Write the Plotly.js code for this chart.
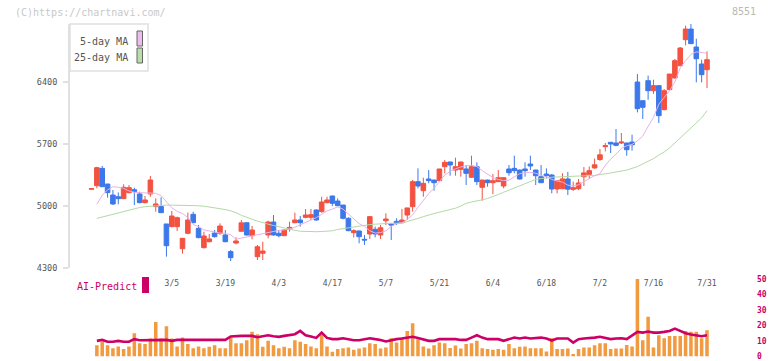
<!DOCTYPE html>
<html><head><meta charset="utf-8">
<script src="https://cdn.plot.ly/plotly-3.0.1.min.js"></script>
<style>html,body{margin:0;padding:0;background:#fff;}#chart{width:772px;height:361px;}</style>
</head><body><div id="chart"></div>
<script>
const tickIndex = [15,25,35,45,55,65,75,85,95,105,115];
const tickDates = ['3/5','3/19','4/3','4/17','5/7','5/21','6/4','6/18','7/2','7/16','7/31'];
const priceTicks = [4300,5000,5700,6400];
const predictTicks = [0,10,20,30,40,50];

const open = [5190,5230,5425,5248,5124,5105,5083,5151,5184,5136,
5038,5136,4993,4993,4797,4767,4767,4518,4692,4906,
4748,4530,4597,4695,4692,4673,4485,4582,4715,4811,
4665,4428,4466,4673,4819,4692,4665,4737,4812,4842,
4872,4872,4955,4936,5038,5113,5056,5011,4861,4699,
4718,4624,4684,4737,4673,4834,4797,4827,4812,4898,
4992,5275,5173,5305,5293,5286,5444,5497,5406,5414,
5418,5324,5444,5211,5293,5263,5275,5226,5418,5425,
5406,5418,5474,5406,5331,5361,5350,5192,5195,5305,
5188,5195,5330,5358,5430,5525,5670,5719,5711,5711,
5711,5722,6400,6189,6415,6302,6359,6088,6314,6445,
6584,6878,6998,6795,6603,6539];
const high = [5200,5443,5452,5250,5181,5154,5245,5237,5207,5162,
5113,5339,5087,5098,4797,4944,4880,4640,4925,4936,
4786,4710,4684,4729,4804,4729,4503,4646,4842,4815,
4775,4560,4597,4834,4898,4729,4740,4823,4925,4887,
4966,4966,4962,5105,5105,5116,5086,5011,4872,4737,
4722,4672,4884,4767,4786,4917,4804,4861,4966,4980,
5293,5425,5320,5406,5297,5418,5519,5500,5546,5500,
5463,5568,5493,5297,5297,5361,5406,5320,5463,5568,
5410,5493,5568,5410,5463,5425,5361,5290,5369,5384,
5275,5305,5440,5446,5535,5644,5711,5722,5869,5824,
5715,5805,6490,6190,6472,6426,6360,6321,6490,6660,
6795,7036,7055,6889,6652,6746];
const low = [5185,5200,5215,5094,5011,5019,5083,5143,5011,5030,
5030,5105,4936,4920,4428,4760,4718,4462,4680,4805,
4635,4520,4590,4643,4673,4590,4379,4567,4710,4665,
4624,4390,4390,4635,4665,4646,4660,4710,4805,4767,
4861,4842,4835,4925,5030,4999,4995,4849,4715,4646,
4579,4560,4628,4646,4628,4786,4616,4786,4804,4842,
4936,5199,5105,5256,5173,5275,5369,5342,5342,5331,
5237,5320,5237,5060,5218,5135,5270,5200,5342,5369,
5300,5331,5406,5237,5260,5312,5143,5143,5190,5124,
5170,5180,5226,5308,5420,5510,5617,5598,5674,5700,
5568,5625,6057,5982,6200,6265,5937,6080,6302,6440,
6580,6814,6830,6396,6396,6332];
const close = [5196,5433,5218,5151,5023,5083,5211,5207,5162,5038,
5068,5294,5023,4925,4552,4887,4868,4635,4842,4812,
4643,4661,4628,4654,4774,4597,4417,4605,4810,4673,
4729,4540,4492,4819,4673,4665,4729,4759,4842,4812,
4898,4902,4842,5045,5068,5030,5004,4861,4722,4722,
4654,4616,4880,4684,4755,4853,4786,4804,4842,4978,
5275,5226,5256,5286,5263,5418,5493,5463,5444,5497,
5369,5444,5275,5293,5263,5286,5320,5320,5376,5399,
5305,5399,5452,5342,5263,5342,5192,5286,5306,5190,
5207,5260,5374,5399,5465,5578,5681,5700,5685,5722,
5636,5692,6099,6114,6302,6359,6020,6302,6490,6641,
6784,6998,6833,6663,6483,6652];
const ma5 = [null,5019,5124,5181,5218,5211,5200,5170,5155,5151,5151,
5151,5143,5117,5049,4980,4940,4915,4870,4790,4767,
4730,4718,4705,4695,4690,4675,4625,4638,4650,4665,
4675,4684,4698,4710,4725,4731,4740,4760,4790,4812,
4842,4868,4910,4945,4965,4990,4965,4910,4850,4800,
4770,4720,4695,4700,4720,4770,4800,4810,4850,4900,
4985,5060,5140,5200,5280,5350,5390,5420,5440,5455,
5458,5445,5400,5360,5320,5300,5287,5292,5330,5365,
5375,5380,5370,5345,5330,5300,5282,5270,5235,5225,
5240,5280,5310,5340,5365,5460,5530,5585,5650,5680,
5695,5735,5790,5900,6000,6150,6230,6300,6400,6560,
6640,6710,6740,6730,6725];
const ma25 = [null,4860,4875,4895,4912,4928,4943,4958,4972,4983,4992,
4998,5005,5008,5010,5010,5010,5006,5003,5002,5003,
4998,4990,4982,4970,4960,4945,4925,4895,4870,4850,
4830,4810,4795,4780,4765,4750,4735,4725,4715,4712,
4710,4710,4712,4716,4720,4735,4745,4755,4765,4772,
4780,4790,4795,4800,4803,4805,4806,4808,4825,4840,
4860,4880,4900,4915,4930,4945,4960,4975,5000,5030,
5045,5055,5070,5085,5105,5130,5155,5180,5205,5230,
5255,5280,5300,5310,5320,5325,5328,5330,5332,5335,
5337,5340,5343,5346,5355,5362,5372,5385,5395,5405,
5425,5445,5475,5505,5535,5575,5610,5655,5710,5770,
5830,5885,5940,5995,6076];
const predictBars = [null,7.3,9.5,7.3,5.4,6.5,4.8,6.5,15,8.6,8,
11.6,22.2,11.6,19.5,11.6,6.5,12.2,8,5.4,6.5,
5.4,6.3,7.3,5.4,5.4,12.2,8.6,8.6,10.5,15.9,
14.4,6.3,10.1,7.3,5.4,6.3,5.4,10.5,9.5,8,
6.5,5.4,14.4,6.5,3.1,4.8,5.4,5.8,4.3,5.2,
5.8,8.6,8,5.2,5.8,11.8,9,12.2,16.5,21.4,
11.2,6.5,5.2,7.3,9,8.5,5.5,7.1,5.2,8.0,
8.6,10.1,5.4,4.8,4.4,4.8,4.4,8.0,5.4,6.3,
6.5,5.4,5.4,5.4,3.3,11.8,4.8,4.8,5.2,1.6,
4.8,5.8,5.8,7.3,8.6,8.6,4.8,5.2,5.2,7.5,
6.5,50,10.5,25.6,5.8,13.7,11.8,13.3,13.3,13.3,
16.5,15.9,15.9,11.8,16.9];
const predictLine = [null,10.1,10.7,9.5,9.5,10.1,9.5,9.5,11.2,10.5,10.5,
10.7,10.7,10.7,10.7,10.1,10.7,10.7,10.7,10.7,10.7,
10.7,10.7,10.7,10.7,10.7,12.9,13.3,13.3,13.3,13.3,
12.4,12.9,13.7,13.1,12.7,13.3,13.7,14.4,16.5,13.7,
12.9,12.0,15.4,12.0,11.2,11.2,11.8,11.2,10.5,10.5,
11.2,11.8,11.2,10.7,9.7,10.7,11.2,11.6,12.0,12.7,
12.0,11.2,10.1,10.1,11.2,11.2,11.2,11.2,10.7,10.7,
12.2,13.7,12.2,11.2,11.2,11.2,10.1,11.2,12.2,11.6,
12.2,11.6,11.8,12.2,11.6,10.3,11.6,11.8,11.6,9.0,
11.2,11.6,11.8,12.2,12.7,11.8,11.2,11.6,11.8,11.2,
13.3,15.9,15.4,16.1,15.4,15.4,15.9,16.5,18.0,16.5,
15.0,14.2,13.7,13.1,13.7];

const idx = close.map((_, i) => i);
const RED = '#f35240', BLUE = '#3d78ea', MAG = '#cc0066';
const MONO = 'DejaVu Sans Mono, monospace';

// pixel helpers for layout decorations (plot area: x 70..752, y 10..358)
const px = x => (x - 70) / 682;
const py = y => (358 - y) / 348;

const traces = [
  {type:'candlestick', x: idx, open: open, high: high, low: low, close: close,
   xaxis:'x', yaxis:'y', whiskerwidth: 0, hoverinfo:'skip',
   increasing:{line:{color:RED, width:1}, fillcolor:RED},
   decreasing:{line:{color:BLUE, width:1}, fillcolor:BLUE}},
  {type:'scatter', mode:'lines', x: idx, y: ma25, xaxis:'x', yaxis:'y',
   line:{color:'#b3d9a5', width:1}, hoverinfo:'skip'},
  {type:'scatter', mode:'lines', x: idx, y: ma5, xaxis:'x', yaxis:'y',
   line:{color:'#e8b2e9', width:1}, hoverinfo:'skip'},
  {type:'bar', x: idx, y: predictBars, xaxis:'x2', yaxis:'y2',
   marker:{color:'#f29a40'}, width:0.66, hoverinfo:'skip'},
  {type:'scatter', mode:'lines', x: idx, y: predictLine, xaxis:'x2', yaxis:'y2',
   line:{color:MAG, width:2.6}, hoverinfo:'skip'}
];

const layout = {
  width:772, height:361,
  margin:{l:70, r:20, t:10, b:3},
  paper_bgcolor:'#fff', plot_bgcolor:'rgba(0,0,0,0)',
  showlegend:false,
  boxgap:0.1, boxgroupgap:0.05,
  font:{family:MONO, color:'#555'},
  xaxis:{range:[-4.02,123.41], anchor:'y', domain:[0,1],
    tickvals: tickIndex, ticktext: tickDates, ticks:'', ticklabelstandoff:9,
    tickfont:{size:8, color:'#555', family:MONO},
    showline:false, showgrid:false, zeroline:false,
    rangeslider:{visible:false}, fixedrange:true},
  xaxis3:{overlaying:'x', anchor:'y', range:[0,11], tickvals:[0,1,2,3,4,5,6,7,8,9,10,11],
    ticks:'outside', ticklen:6, tickwidth:1.5, tickcolor:'#e0e0e0',
    showticklabels:false, showline:true, linecolor:'#e0e0e0', linewidth:2,
    showgrid:false, zeroline:false},
  xaxis2:{matches:'x', anchor:'y2', visible:false, showgrid:false, zeroline:false},
  yaxis:{domain:[py(268),py(24)], range:[4300,7055], anchor:'x',
    tickvals: priceTicks, ticks:'outside', ticklen:5, tickwidth:1.5, tickcolor:'#e0e0e0',
    ticklabelstandoff:4,
    tickfont:{size:8.5, color:'#555', family:MONO},
    showline:true, linecolor:'#e0e0e0', linewidth:2, showgrid:false, zeroline:false},
  yaxis2:{domain:[py(356.5),py(279)], range:[0,50], anchor:'x2', side:'right',
    tickvals: predictTicks, ticks:'', ticklabelstandoff:4, ticklabeloverflow:'allow',
    tickfont:{size:8, color:MAG, family:MONO, weight:'bold'},
    showline:false, showgrid:false, zeroline:false},
  shapes:[
    {type:'rect', xref:'paper', yref:'paper', x0:px(70), x1:px(148), y0:py(71), y1:py(24),
     line:{color:'#e0e0e0', width:1.5}, fillcolor:'#fff', layer:'above'},
    {type:'rect', xref:'paper', yref:'paper', x0:px(137), x1:px(142.5), y0:py(46), y1:py(31),
     line:{color:'#666', width:1}, fillcolor:'#eebbee', layer:'above'},
    {type:'rect', xref:'paper', yref:'paper', x0:px(137), x1:px(142.5), y0:py(63), y1:py(48),
     line:{color:'#666', width:1}, fillcolor:'#bbddaa', layer:'above'},
    {type:'rect', xref:'paper', yref:'paper', x0:px(142), x1:px(149), y0:py(293), y1:py(277),
     line:{width:0}, fillcolor:MAG}
  ],
  annotations:[
    {xref:'paper', yref:'paper', x:px(130), y:py(41.5), xanchor:'right', yanchor:'middle',
     text:'5-day MA', showarrow:false, font:{size:10, color:'#555', family:MONO}},
    {xref:'paper', yref:'paper', x:px(130), y:py(57.3), xanchor:'right', yanchor:'middle',
     text:'25-day MA', showarrow:false, font:{size:10, color:'#555', family:MONO}},
    {xref:'paper', yref:'paper', x:px(75), y:py(286), xanchor:'left', yanchor:'middle',
     text:'AI-Predict', showarrow:false, font:{size:10, color:MAG, family:MONO}},
    {xref:'paper', yref:'paper', x:px(13), y:py(12.5), xanchor:'left', yanchor:'middle',
     text:'(C)https://chartnavi.com/', showarrow:false, font:{size:10, color:'#c8c8c8', family:MONO}},
    {xref:'paper', yref:'paper', x:px(758), y:py(11.5), xanchor:'right', yanchor:'middle',
     text:'8551', showarrow:false, font:{size:10, color:'#b8b8b8', family:MONO}}
  ]
};

Plotly.newPlot('chart', traces, layout, {staticPlot:true, displayModeBar:false});
</script>
</body></html>
